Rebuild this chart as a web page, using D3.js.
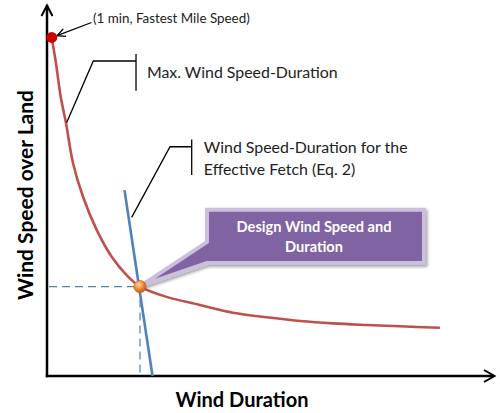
<!DOCTYPE html>
<html>
<head>
<meta charset="utf-8">
<script src="https://cdn.jsdelivr.net/npm/d3@7"></script>
<style>
html,body{margin:0;padding:0;background:#fff;}
svg{display:block;font-family:Lato,"Open Sans",sans-serif;}
</style>
</head>
<body>
<svg id="chart" width="500" height="413"></svg>
<script>
// ---- data (arbitrary units: duration 0-100, speed 0-100) ----
const maxDurations = [1.05, 2.0, 3.06, 4.24, 5.8, 8.04, 11.09, 14.44, 18.08, 20.76, 26.7, 34.15, 41.5, 49.0, 56.5, 63.8, 71.4, 78.8, 87.7];
const maxSpeeds    = [92.0, 85.0, 75.9, 68.75, 57.9, 48.7, 39.7, 32.4, 27.0, 24.3, 21.5, 19.3, 17.2, 15.95, 14.95, 14.3, 13.86, 13.5, 13.1];
const fetchDurations = [17.3, 23.55];
const fetchSpeeds    = [50.5, 0];
const fastestMile = [1.05, 92.0];
const designPoint = [20.76, 24.3];

const xTitle = "Wind Duration";
const yTitle = "Wind Speed over Land";
const fastestLabel = "(1 min, Fastest Mile Speed)";
const maxLabel = "Max. Wind Speed-Duration";
const fetchLabel = ["Wind Speed-Duration for the", "Effective Fetch (Eq. 2)"];
const designLabel = ["Design Wind Speed and", "Duration"];

// ---- layout ----
const W = 500, H = 413;
const x = d3.scaleLinear().domain([0, 100]).range([47, 495]);
const y = d3.scaleLinear().domain([0, 100]).range([376, 8]);

const svg = d3.select("#chart");
const defs = svg.append("defs");

const grad = defs.append("radialGradient").attr("id", "orange")
  .attr("cx", "40%").attr("cy", "35%").attr("r", "65%");
grad.append("stop").attr("offset", "0%").attr("stop-color", "#ffd9a0");
grad.append("stop").attr("offset", "45%").attr("stop-color", "#f79646");
grad.append("stop").attr("offset", "100%").attr("stop-color", "#b85c10");

const shadow = defs.append("filter").attr("id", "shadow")
  .attr("x", "-10%").attr("y", "-10%").attr("width", "130%").attr("height", "140%");
shadow.append("feDropShadow").attr("dx", 1.5).attr("dy", 2).attr("stdDeviation", 1.5)
  .attr("flood-color", "#000").attr("flood-opacity", 0.35);

function fit(sel, target) {
  const n = sel.node();
  const fs = parseFloat(sel.attr("font-size"));
  const w = n.getComputedTextLength();
  const nf = fs * target / w;
  sel.attr("font-size", nf);
  return nf;
}

// ---- axes with arrowheads ----
const ax = svg.append("g").attr("stroke", "#000").attr("fill", "none")
  .attr("stroke-width", 2.5).attr("stroke-linecap", "butt");
ax.append("line").attr("x1", x(0)).attr("y1", y(0) + 1.2).attr("x2", x(0)).attr("y2", y(100) - 2.5);
ax.append("line").attr("x1", x(0) - 1.2).attr("y1", y(0)).attr("x2", x(100) - 1).attr("y2", y(0));
ax.append("path").attr("stroke-width", 2).attr("stroke-linejoin", "miter")
  .attr("d", `M${x(0) - 5.5},${y(100) + 8} L${x(0)},${y(100) - 2.5} L${x(0) + 5.5},${y(100) + 8}`);
ax.append("path").attr("stroke-width", 2).attr("stroke-linejoin", "miter")
  .attr("d", `M${x(100) - 11},${y(0) - 6} L${x(100) - 0.5},${y(0)} L${x(100) - 11},${y(0) + 6}`);

// ---- dashed guides to design point ----
svg.append("line").attr("x1", x(0) + 2).attr("y1", y(designPoint[1]))
  .attr("x2", x(designPoint[0])).attr("y2", y(designPoint[1]))
  .attr("stroke", "#4f81bd").attr("stroke-width", 1.2).attr("stroke-dasharray", "8,5");
svg.append("line").attr("x1", x(designPoint[0])).attr("y1", y(designPoint[1]))
  .attr("x2", x(designPoint[0])).attr("y2", y(0) - 1.5)
  .attr("stroke", "#4f81bd").attr("stroke-width", 1.2).attr("stroke-dasharray", "8,5");

// ---- max wind speed-duration curve ----
const maxData = maxDurations.map((d, i) => [d, maxSpeeds[i]]);
const line = d3.line().x(d => x(d[0])).y(d => y(d[1])).curve(d3.curveCatmullRom.alpha(0.5));
svg.append("path").datum(maxData).attr("d", line)
  .attr("fill", "none").attr("stroke", "#c0504d").attr("stroke-width", 2.6);

// ---- effective fetch line ----
const fetchData = fetchDurations.map((d, i) => [d, fetchSpeeds[i]]);
svg.append("path").datum(fetchData).attr("d", d3.line().x(d => x(d[0])).y(d => y(d[1])))
  .attr("fill", "none").attr("stroke", "#4f81bd").attr("stroke-width", 2.6);

// ---- leader lines / brackets ----
const lead = svg.append("g").attr("stroke", "#000").attr("fill", "none").attr("stroke-width", 1.3);
// max bracket
lead.append("path").attr("d",
  `M${x(4.4)},${y(68.9)} L${x(10.33)},${y(85.6)} L${x(19.87)},${y(85.6)}`);
lead.append("line").attr("x1", x(19.87)).attr("y1", y(87.5)).attr("x2", x(19.87)).attr("y2", y(77.5));
// fetch bracket
lead.append("path").attr("d",
  `M${x(18.9)},${y(43.1)} L${x(27.46)},${y(62.3)} L${x(32.3)},${y(62.3)}`);
lead.append("line").attr("x1", x(32.3)).attr("y1", y(64.3)).attr("x2", x(32.3)).attr("y2", y(54.6));
// fastest mile arrow
const ax1 = [x(9.93), y(96.06)], ax2 = [x(2.23), y(92.5)];
lead.append("line").attr("x1", ax1[0]).attr("y1", ax1[1]).attr("x2", ax2[0]).attr("y2", ax2[1]);
{
  const ang = Math.atan2(ax1[1] - ax2[1], ax1[0] - ax2[0]);
  const L = 9, sp = 0.45;
  lead.append("path").attr("d",
    `M${ax2[0] + L * Math.cos(ang - sp)},${ax2[1] + L * Math.sin(ang - sp)} L${ax2[0]},${ax2[1]} L${ax2[0] + L * Math.cos(ang + sp)},${ax2[1] + L * Math.sin(ang + sp)}`);
}

// ---- callout ----
const bx0 = x(35.7), bx1 = x(84.15), by0 = y(45.2), by1 = y(30.7), pby = y(36.4);
const tip = [x(designPoint[0]) + 1, y(designPoint[1]) - 1];
svg.append("path")
  .attr("d", `M${bx0},${by0} L${bx1},${by0} L${bx1},${by1} L${bx0},${by1} L${tip[0]},${tip[1]} L${bx0},${pby} Z`)
  .attr("fill", "#8064a2").attr("stroke", "#cbc0dc").attr("stroke-width", 4)
  .attr("stroke-linejoin", "miter").attr("filter", "url(#shadow)");

// ---- points ----
svg.append("circle").attr("cx", x(fastestMile[0])).attr("cy", y(fastestMile[1])).attr("r", 5.5)
  .attr("fill", "#cc0000");
svg.append("circle").attr("cx", x(designPoint[0])).attr("cy", y(designPoint[1])).attr("r", 6.2)
  .attr("fill", "url(#orange)").attr("stroke", "#c0651a").attr("stroke-width", 0.6);

// ---- texts ----
const t1 = svg.append("text").attr("x", x(10.27)).attr("y", y(95.9)).attr("font-size", 12)
  .attr("fill", "#222").text(fastestLabel);
fit(t1, 157);

const t2 = svg.append("text").attr("x", x(22.3)).attr("y", y(80.9)).attr("font-size", 15)
  .attr("fill", "#222").text(maxLabel);
fit(t2, 191);

const t3 = svg.append("text").attr("x", x(35.0)).attr("y", y(60.6)).attr("font-size", 15)
  .attr("fill", "#222").text(fetchLabel[0]);
const fs3 = fit(t3, 204);
svg.append("text").attr("x", x(35.0)).attr("y", y(54.6)).attr("font-size", fs3)
  .attr("fill", "#222").text(fetchLabel[1]);

const cx = x(59.6);
const t4 = svg.append("text").attr("x", cx).attr("y", y(39.1)).attr("font-size", 13)
  .attr("text-anchor", "middle").attr("font-weight", "bold").attr("fill", "#fff").text(designLabel[0]);
const fs4 = fit(t4, 155);
svg.append("text").attr("x", cx).attr("y", y(33.8)).attr("font-size", fs4)
  .attr("text-anchor", "middle").attr("font-weight", "bold").attr("fill", "#fff").text(designLabel[1]);

const tx = svg.append("text").attr("x", 242).attr("y", 407).attr("font-size", 18)
  .attr("text-anchor", "middle").attr("font-weight", "bold").attr("fill", "#000").text(xTitle);
fit(tx, 133);

const ty = svg.append("text").attr("transform", "translate(33,195) rotate(-90)").attr("font-size", 18)
  .attr("text-anchor", "middle").attr("font-weight", "bold").attr("fill", "#000").text(yTitle);
fit(ty, 210);
</script>
</body>
</html>
